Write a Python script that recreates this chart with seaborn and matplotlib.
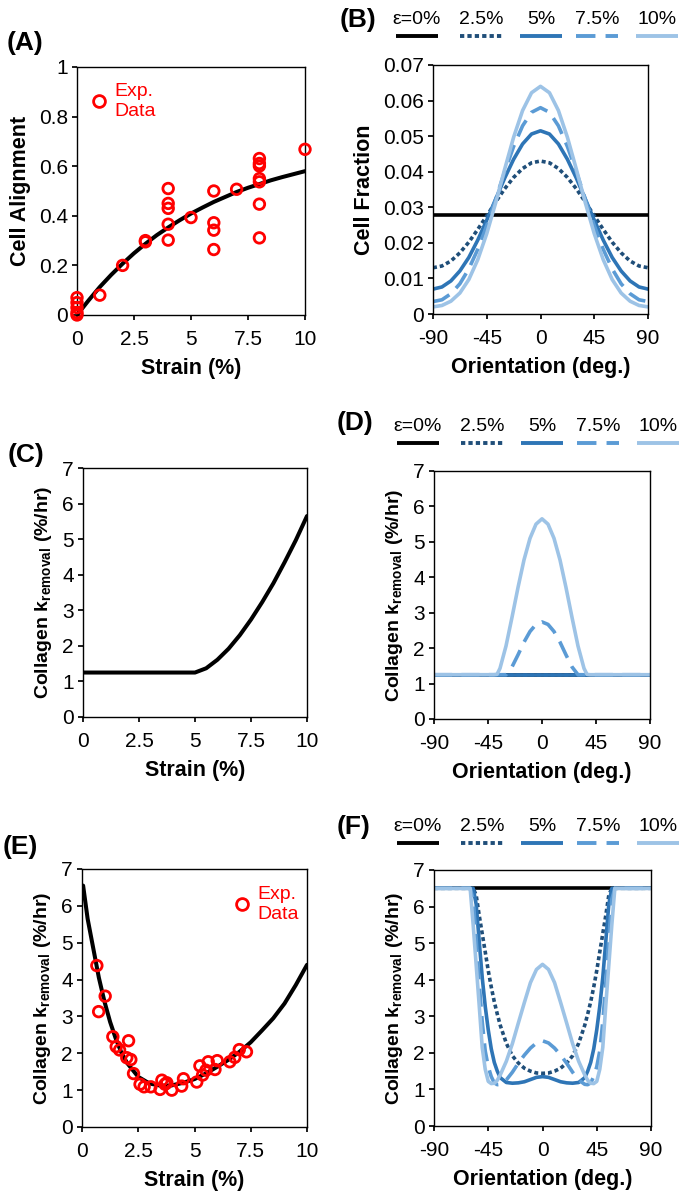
import matplotlib
matplotlib.use("Agg")
import matplotlib.pyplot as plt
import seaborn as sns
from matplotlib.lines import Line2D

W, H = 685, 1203

# ---- (A) cell alignment vs strain
a_exp_strain = [0, 0, 0, 0, 0, 1, 2, 3, 3, 4, 4, 4, 4, 4, 5, 6, 6, 6, 6, 7,
                8, 8, 8, 8, 8, 8, 8, 10]
a_exp_align = [0.0, 0.01, 0.03, 0.05, 0.07, 0.08, 0.20, 0.295, 0.30, 0.51, 0.45,
               0.43, 0.366, 0.302, 0.393, 0.50, 0.372, 0.342, 0.264, 0.507,
               0.631, 0.611, 0.601, 0.55, 0.537, 0.447, 0.311, 0.668]
a_fit_strain = [0, 0.5, 1, 1.5, 2, 2.5, 3, 3.5, 4, 4.5, 5, 5.5, 6, 6.5, 7,
                7.5, 8, 8.5, 9, 9.5, 10]
a_fit_align = [0.0, 0.058, 0.113, 0.162, 0.207, 0.249, 0.287, 0.322, 0.353,
               0.382, 0.409, 0.433, 0.456, 0.476, 0.496, 0.513, 0.528, 0.543,
               0.556, 0.568, 0.580]

# ---- (B) cell fraction vs orientation
theta_b = [-90, -82.5, -75, -67.5, -60, -52.5, -45, -37.5, -30, -22.5, -15, -7.5, 0,
           7.5, 15, 22.5, 30, 37.5, 45, 52.5, 60, 67.5, 75, 82.5, 90]
b_eps0 = [0.0277] * 25
b_eps25 = [0.0130, 0.0135, 0.0149, 0.0172, 0.0202, 0.0238, 0.0276, 0.0315, 0.0352,
           0.0384, 0.0409, 0.0425, 0.0430, 0.0425, 0.0409, 0.0384, 0.0352, 0.0315,
           0.0276, 0.0238, 0.0202, 0.0172, 0.0149, 0.0135, 0.0130]
b_eps5 = [0.0070, 0.0076, 0.0093, 0.0121, 0.0159, 0.0208, 0.0264, 0.0323, 0.0382,
          0.0435, 0.0478, 0.0506, 0.0515, 0.0506, 0.0478, 0.0435, 0.0382, 0.0323,
          0.0264, 0.0208, 0.0159, 0.0121, 0.0093, 0.0076, 0.0070]
b_eps75 = [0.0035, 0.0040, 0.0057, 0.0085, 0.0127, 0.0182, 0.0249, 0.0323, 0.0400,
           0.0471, 0.0529, 0.0567, 0.0580, 0.0567, 0.0529, 0.0471, 0.0400, 0.0323,
           0.0249, 0.0182, 0.0127, 0.0085, 0.0057, 0.0040, 0.0035]
b_eps10 = [0.0020, 0.0024, 0.0036, 0.0059, 0.0097, 0.0153, 0.0226, 0.0313, 0.0407,
           0.0497, 0.0572, 0.0622, 0.0640, 0.0622, 0.0572, 0.0497, 0.0407, 0.0313,
           0.0226, 0.0153, 0.0097, 0.0059, 0.0036, 0.0024, 0.0020]

# ---- (C) collagen removal vs strain (model)
c_strain = [0, 5, 5.5, 6, 6.5, 7, 7.5, 8, 8.5, 9, 9.5, 10]
c_k = [1.25, 1.25, 1.37, 1.61, 1.92, 2.30, 2.74, 3.23, 3.76, 4.35, 4.97, 5.65]

# ---- (D)/(F) orientation grid
theta_df = [-90, -80, -70, -60, -57.5, -55, -52.5, -50, -47.5, -45, -42.5, -40,
            -37.5, -35, -30, -25, -20, -15, -10, -5, 0, 5, 10, 15, 20, 25, 30, 35,
            37.5, 40, 42.5, 45, 47.5, 50, 52.5, 55, 57.5, 60, 70, 80, 90]
d_eps0 = [1.25] * 41
d_eps25 = [1.25] * 41
d_eps5 = [1.25] * 41
d_eps75 = [1.25, 1.25, 1.25, 1.25, 1.25, 1.25, 1.25, 1.25, 1.25, 1.25, 1.25, 1.25,
           1.25, 1.25, 1.25, 1.47, 1.81, 2.17, 2.47, 2.67, 2.74, 2.67, 2.47, 2.17,
           1.81, 1.47, 1.25, 1.25, 1.25, 1.25, 1.25, 1.25, 1.25, 1.25, 1.25, 1.25,
           1.25, 1.25, 1.25, 1.25, 1.25]
d_eps10 = [1.25, 1.25, 1.25, 1.25, 1.25, 1.25, 1.25, 1.25, 1.25, 1.25, 1.25, 1.25,
           1.26, 1.43, 2.06, 2.87, 3.71, 4.49, 5.10, 5.50, 5.65, 5.50, 5.10, 4.49,
           3.71, 2.87, 2.06, 1.43, 1.26, 1.25, 1.25, 1.25, 1.25, 1.25, 1.25, 1.25,
           1.25, 1.25, 1.25, 1.25, 1.25]

# ---- (E) collagen removal vs strain, fit + experiment
e_fit_strain = [0.05, 0.25, 0.5, 0.75, 1, 1.25, 1.5, 1.75, 2, 2.5, 3, 3.5, 4, 4.5,
                5, 5.5, 6, 6.5, 7, 7.5, 8, 8.5, 9, 9.5, 10]
e_fit_k = [6.55, 5.65, 4.85, 4.05, 3.40, 2.85, 2.40, 2.02, 1.74, 1.36, 1.18, 1.12,
           1.13, 1.20, 1.30, 1.45, 1.63, 1.82, 2.04, 2.30, 2.62, 2.95, 3.35, 3.85,
           4.40]
e_exp_strain = [0.66, 0.74, 1.03, 1.37, 1.52, 1.67, 2.07, 1.99, 2.17, 2.29, 2.58,
                2.76, 3.06, 3.47, 3.55, 3.69, 3.77, 3.99, 4.43, 4.51, 5.10, 5.24,
                5.36, 5.51, 5.61, 5.91, 6.01, 6.57, 6.79, 6.99, 7.31]
e_exp_k = [4.38, 3.13, 3.55, 2.45, 2.18, 2.09, 2.34, 1.88, 1.83, 1.45, 1.16, 1.09,
           1.09, 1.02, 1.27, 1.16, 1.20, 1.00, 1.11, 1.31, 1.22, 1.66, 1.41, 1.54,
           1.77, 1.56, 1.80, 1.77, 1.89, 2.10, 2.04]

# ---- (F) collagen removal vs orientation
f_eps0 = [6.5] * 41
f_eps25 = [6.5, 6.5, 6.5, 6.5, 6.5, 6.31, 5.76, 5.26, 4.76, 4.25, 3.80, 3.40, 3.06,
           2.75, 2.26, 1.92, 1.72, 1.58, 1.50, 1.45, 1.44, 1.45, 1.50, 1.58, 1.72,
           1.92, 2.26, 2.75, 3.06, 3.40, 3.80, 4.25, 4.76, 5.26, 5.76, 6.31, 6.5,
           6.5, 6.5, 6.5, 6.5]
f_eps5 = [6.5, 6.5, 6.5, 6.5, 6.5, 6.06, 5.05, 4.06, 3.27, 2.63, 2.11, 1.74, 1.50,
          1.32, 1.19, 1.17, 1.18, 1.21, 1.27, 1.33, 1.35, 1.33, 1.27, 1.21, 1.18,
          1.17, 1.19, 1.32, 1.50, 1.74, 2.11, 2.63, 3.27, 4.06, 5.05, 6.06, 6.5,
          6.5, 6.5, 6.5, 6.5]
f_eps75 = [6.5, 6.5, 6.5, 6.5, 6.20, 5.10, 3.90, 2.85, 2.05, 1.62, 1.35, 1.18, 1.13,
           1.14, 1.26, 1.47, 1.72, 1.94, 2.13, 2.27, 2.33, 2.27, 2.13, 1.94, 1.72,
           1.47, 1.26, 1.14, 1.13, 1.18, 1.35, 1.62, 2.05, 2.85, 3.90, 5.10, 6.20,
           6.5, 6.5, 6.5, 6.5]
f_eps10 = [6.5, 6.5, 6.5, 6.5, 5.50, 4.40, 3.30, 2.15, 1.55, 1.22, 1.16, 1.17, 1.25,
           1.40, 1.77, 2.25, 2.82, 3.38, 3.92, 4.28, 4.42, 4.28, 3.92, 3.38, 2.82,
           2.25, 1.77, 1.40, 1.25, 1.17, 1.16, 1.22, 1.55, 2.15, 3.30, 4.40, 5.50,
           6.5, 6.5, 6.5, 6.5]

strain_labels = ["\u03b5=0%", "2.5%", "5%", "7.5%", "10%"]
strain_colors = ["#000000", "#1F4E79", "#2E75B6", "#5B9BD5", "#9DC3E6"]
strain_styles = ["-", (0, (1.1, 0.8)), "-", (0, (5, 2.6)), "-"]

strain_ticks = [0, 2.5, 5, 7.5, 10]
strain_ticklabels = ["0", "2.5", "5", "7.5", "10"]
orient_ticks = [-90, -45, 0, 45, 90]
orient_ticklabels = ["-90", "-45", "0", "45", "90"]
align_ticks = [0, 0.2, 0.4, 0.6, 0.8, 1]
align_ticklabels = ["0", "0.2", "0.4", "0.6", "0.8", "1"]
frac_ticks = [0, 0.01, 0.02, 0.03, 0.04, 0.05, 0.06, 0.07]
frac_ticklabels = ["0", "0.01", "0.02", "0.03", "0.04", "0.05", "0.06", "0.07"]
k_ticks = [0, 1, 2, 3, 4, 5, 6, 7]

sns.set_theme(style="ticks")
plt.rcParams["font.family"] = ["Liberation Sans", "DejaVu Sans"]
plt.rcParams["mathtext.fontset"] = "custom"
plt.rcParams["mathtext.rm"] = "Liberation Sans"
plt.rcParams["mathtext.bf"] = "Liberation Sans:bold"
plt.rcParams["text.color"] = "black"
plt.rcParams["axes.labelcolor"] = "black"
plt.rcParams["axes.edgecolor"] = "black"
plt.rcParams["axes.linewidth"] = 1.0
plt.rcParams["xtick.color"] = "black"
plt.rcParams["ytick.color"] = "black"
plt.rcParams["xtick.major.size"] = 3.5
plt.rcParams["ytick.major.size"] = 3.5
plt.rcParams["xtick.major.pad"] = 7
plt.rcParams["ytick.major.pad"] = 3

TICK_FS = 15
LABEL_FS = 15.5
LW = 2.6
K_LABEL = r"Collagen k$_{\mathbf{removal}}$ (%/hr)"

fig = plt.figure(figsize=(W / 100, H / 100), dpi=100)


def px_axes(left, top, right, bottom):
    """Axes from pixel box of the reference"""
    return fig.add_axes([left / W, 1 - bottom / H, (right - left) / W, (bottom - top) / H])


def style_axes(ax, xticks, xlabels, yticks, ylabels, xlabel, ylabel, ylabel_fs=LABEL_FS):
    ax.set_xticks(xticks)
    ax.set_xticklabels(xlabels, fontsize=TICK_FS)
    ax.set_yticks(yticks)
    ax.set_yticklabels(ylabels, fontsize=TICK_FS)
    ax.set_xlim(xticks[0], xticks[-1])
    ax.set_ylim(yticks[0], yticks[-1])
    ax.set_xlabel(xlabel, fontsize=LABEL_FS, fontweight="bold", labelpad=7)
    ax.set_ylabel(ylabel, fontsize=ylabel_fs, fontweight="bold", labelpad=6)
    for s in ax.spines.values():
        s.set_visible(True)
        s.set_color("black")


def strain_lines(ax, theta, series):
    for vals, col, ls in zip(series, strain_colors, strain_styles):
        sns.lineplot(x=theta, y=vals, ax=ax, color=col, linewidth=LW,
                     linestyle=ls, errorbar=None, sort=False)


def strain_legend(ax, dy_line=28):
    box = ax.get_position()
    x0 = box.x0 * W
    ytop = box.y1 * H
    offsets = [-16, 48, 108, 164, 224]
    for dx, lab, col, ls in zip(offsets, strain_labels, strain_colors, strain_styles):
        xs = [(x0 + dx - 21) / W, (x0 + dx + 21) / W]
        ys = [(ytop + dy_line) / H] * 2
        fig.add_artist(Line2D(xs, ys, transform=fig.transFigure, color=col,
                              linewidth=2.8, linestyle=ls, solid_capstyle="butt"))
        fig.text((x0 + dx) / W, (ytop + dy_line + 16) / H, lab, ha="center",
                 va="center", fontsize=14)


def exp_legend(ax, anchor):
    h = Line2D([], [], marker="o", linestyle="none", markerfacecolor="none",
               markeredgecolor="red", markersize=8.5, markeredgewidth=2.0)
    ax.legend([h], ["Exp.\nData"], loc="center left", bbox_to_anchor=anchor,
              frameon=False, labelcolor="red", fontsize=14, handlelength=1.0,
              handletextpad=0.3, borderpad=0, borderaxespad=0)


def exp_scatter(ax, x, y):
    sns.scatterplot(x=x, y=y, ax=ax, marker="o", s=58, facecolor="none",
                    edgecolor="red", linewidth=2.0, clip_on=False, zorder=4)


# (A)
axA = px_axes(77, 67, 305, 315)
sns.lineplot(x=a_fit_strain, y=a_fit_align, ax=axA, color="black", linewidth=2.9,
             errorbar=None)
exp_scatter(axA, a_exp_strain, a_exp_align)
style_axes(axA, strain_ticks, strain_ticklabels, align_ticks, align_ticklabels,
           "Strain (%)", "Cell Alignment")
exp_legend(axA, (0.052, 0.862))

# (B)
axB = px_axes(433, 65, 648, 314)
strain_lines(axB, theta_b, [b_eps0, b_eps25, b_eps5, b_eps75, b_eps10])
style_axes(axB, orient_ticks, orient_ticklabels, frac_ticks, frac_ticklabels,
           "Orientation (deg.)", "Cell Fraction")
strain_legend(axB, 29)

# (C)
axC = px_axes(83, 468, 307, 717)
sns.lineplot(x=c_strain, y=c_k, ax=axC, color="black", linewidth=2.9, errorbar=None)
style_axes(axC, strain_ticks, strain_ticklabels, k_ticks, [str(t) for t in k_ticks],
           "Strain (%)", K_LABEL, ylabel_fs=14)

# (D)
axD = px_axes(434, 471, 650, 719)
strain_lines(axD, theta_df, [d_eps0, d_eps25, d_eps5, d_eps75, d_eps10])
style_axes(axD, orient_ticks, orient_ticklabels, k_ticks, [str(t) for t in k_ticks],
           "Orientation (deg.)", K_LABEL, ylabel_fs=14)
strain_legend(axD, 28)

# (E)
axE = px_axes(82, 869, 307, 1127)
sns.lineplot(x=e_fit_strain, y=e_fit_k, ax=axE, color="black", linewidth=2.9,
             errorbar=None)
exp_scatter(axE, e_exp_strain, e_exp_k)
style_axes(axE, strain_ticks, strain_ticklabels, k_ticks, [str(t) for t in k_ticks],
           "Strain (%)", K_LABEL, ylabel_fs=14)
exp_legend(axE, (0.666, 0.862))

# (F)
axF = px_axes(434, 870, 651, 1126)
strain_lines(axF, theta_df, [f_eps0, f_eps25, f_eps5, f_eps75, f_eps10])
style_axes(axF, orient_ticks, orient_ticklabels, k_ticks, [str(t) for t in k_ticks],
           "Orientation (deg.)", K_LABEL, ylabel_fs=14)
strain_legend(axF, 27)

# panel letters
for lab, x, y in [("(A)", 7, 43), ("(B)", 340, 20), ("(C)", 8, 455),
                  ("(D)", 337, 423), ("(E)", 3, 847), ("(F)", 337, 827)]:
    fig.text(x / W, 1 - y / H, lab, fontsize=19, fontweight="bold",
             ha="left", va="center")

fig.savefig("out.png", dpi=100)
